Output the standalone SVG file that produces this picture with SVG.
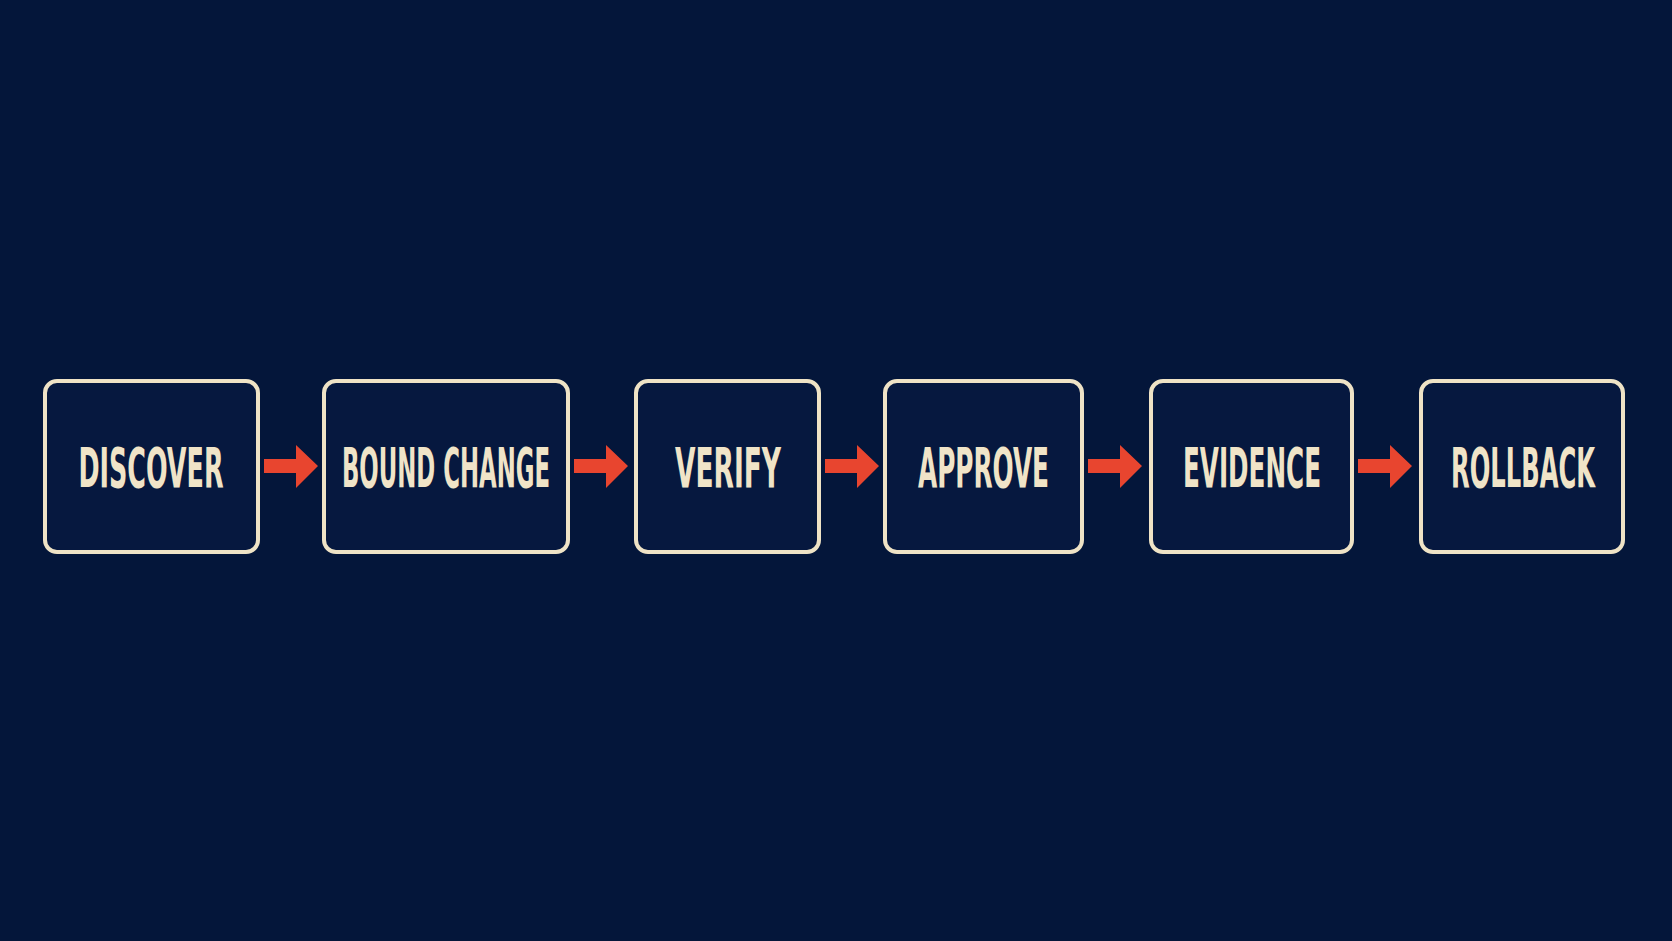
<svg xmlns="http://www.w3.org/2000/svg" width="1672" height="941" viewBox="0 0 1672 941">
<defs>
<style>
.box{fill:#06183f;stroke:#efe3c6;stroke-width:4;}
.lbl{font-family:"Liberation Sans Narrow","DejaVu Sans Condensed","Liberation Sans",sans-serif;font-weight:bold;font-size:56px;fill:#f0e4c8;text-anchor:middle;}
.arr{fill:#e8452f;}
</style>
<symbol id="arrow" overflow="visible">
<path class="arr" d="M0,-7 H32 V-21 L54,0 L32,22 V7 H0 Z"/>
</symbol>
</defs>
<rect width="1672" height="941" fill="#04163a"/>
<g id="n1"><rect class="box" x="45" y="381" width="213" height="171" rx="12"/><text class="lbl" x="151" y="487" textLength="145" lengthAdjust="spacingAndGlyphs">DISCOVER</text></g>
<g id="n2"><rect class="box" x="324" y="381" width="244" height="171" rx="12"/><text class="lbl" x="446" y="487" textLength="208" lengthAdjust="spacingAndGlyphs">BOUND CHANGE</text></g>
<g id="n3"><rect class="box" x="636" y="381" width="183" height="171" rx="12"/><text class="lbl" x="728" y="487" textLength="106" lengthAdjust="spacingAndGlyphs">VERIFY</text></g>
<g id="n4"><rect class="box" x="885" y="381" width="197" height="171" rx="12"/><text class="lbl" x="983.5" y="487" textLength="131" lengthAdjust="spacingAndGlyphs">APPROVE</text></g>
<g id="n5"><rect class="box" x="1151" y="381" width="201" height="171" rx="12"/><text class="lbl" x="1252" y="487" textLength="138" lengthAdjust="spacingAndGlyphs">EVIDENCE</text></g>
<g id="n6"><rect class="box" x="1421" y="381" width="202" height="171" rx="12"/><text class="lbl" x="1523" y="487" textLength="144" lengthAdjust="spacingAndGlyphs">ROLLBACK</text></g>
<g id="connectors">
<use href="#arrow" x="264" y="466"/>
<use href="#arrow" x="574" y="466"/>
<use href="#arrow" x="825" y="466"/>
<use href="#arrow" x="1088" y="466"/>
<use href="#arrow" x="1358" y="466"/>
</g>
</svg>
